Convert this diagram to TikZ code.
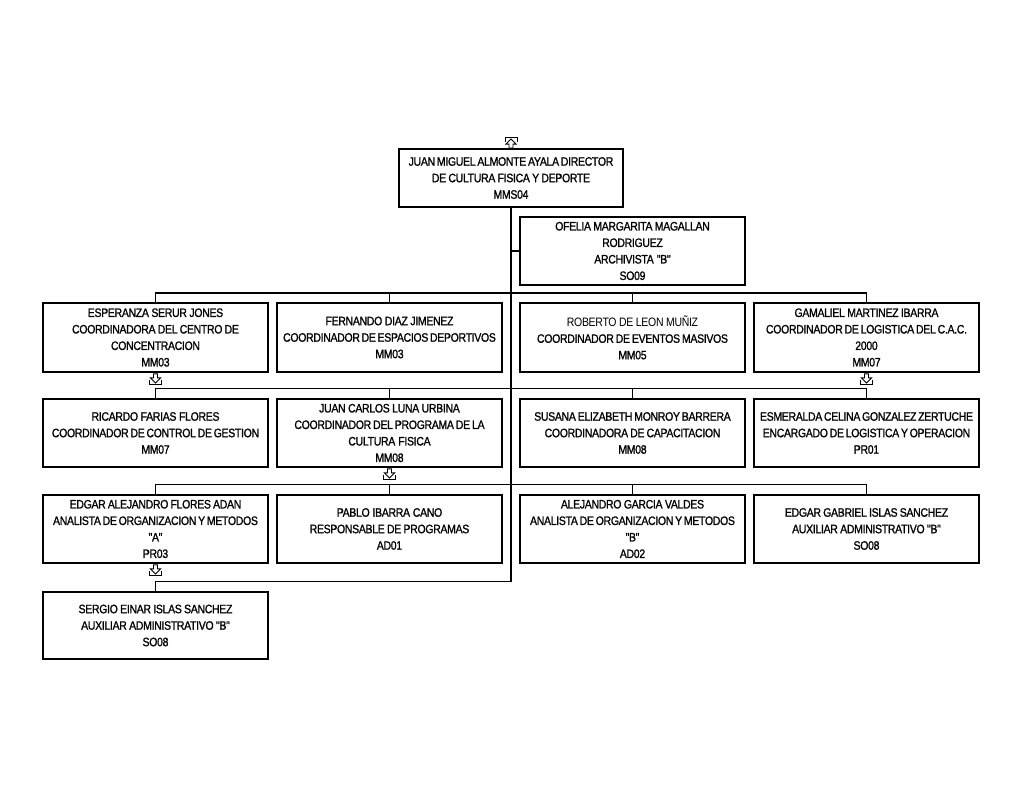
\documentclass[tikz,border=0pt]{standalone}
\usepackage{fontspec}
\setmainfont{Liberation Sans}[FakeStretch=0.86, LetterSpace=-2.5, FakeBold=1.1, Ligatures=TeXOff]
\newcommand\tightspaces{\spaceskip=1.6pt plus 0.5pt minus 0.3pt\relax}
\begin{document}
\begin{tikzpicture}[x=1pt,y=-1pt,
  box/.style={draw, line width=1.8pt, fill=white, minimum width=225pt, minimum height=68pt,
    inner sep=0pt, align=center, text width=222pt,
    font=\fontsize{12.2}{16.5}\selectfont, execute at begin node=\tightspaces},
  conn/.style={line width=1.6pt},
  dnicon/.pic={
    \draw[line width=0.9pt, fill=white] (-2,0) -- (2,0) -- (2,4) -- (5,4) -- (0,9) -- (-5,4) -- (-2,4) -- cycle;
    \draw[line width=0.9pt] (-6,6) -- (-6,11) -- (6,11) -- (6,6);
  },
  upicon/.pic={
    \draw[line width=0.9pt, fill=white] (-2,0) -- (2,0) -- (2,-4) -- (5,-4) -- (0,-9) -- (-5,-4) -- (-2,-4) -- cycle;
    \draw[line width=0.9pt] (-6,-6) -- (-6,-11) -- (6,-11) -- (6,-6);
  }]
\useasboundingbox[fill=white] (0,0) rectangle (1024,791);

% top
\node[box, minimum width=224pt, minimum height=58pt] (top) at (511,178)
  {JUAN MIGUEL ALMONTE AYALA DIRECTOR\\DE CULTURA FISICA Y DEPORTE\\MMS04\\[2pt]};
\node[box] (of) at (632.5,251)
  {OFELIA MARGARITA MAGALLAN\\RODRIGUEZ\\ARCHIVISTA "B"\\SO09};

% row 1
\node[box, minimum height=69pt] (a1) at (155.5,337.5)
  {ESPERANZA SERUR JONES\\COORDINADORA DEL CENTRO DE\\CONCENTRACION\\MM03};
\node[box, minimum height=69pt] (b1) at (389.5,337.5)
  {FERNANDO DIAZ JIMENEZ\\COORDINADOR DE ESPACIOS DEPORTIVOS\\MM03};
\node[box, minimum height=69pt] (c1) at (632.5,337.5)
  {{\addfontfeatures{FakeBold=0}\tightspaces ROBERTO DE LEON MUÑIZ}\\COORDINADOR DE EVENTOS MASIVOS\\MM05};
\node[box, minimum height=69pt] (d1) at (866.5,337.5)
  {GAMALIEL MARTINEZ IBARRA\\COORDINADOR DE LOGISTICA DEL C.A.C.\\2000\\MM07};

% row 2
\node[box] (a2) at (155.5,433)
  {RICARDO FARIAS FLORES\\COORDINADOR DE CONTROL DE GESTION\\MM07};
\node[box] (b2) at (389.5,433)
  {JUAN CARLOS LUNA URBINA\\COORDINADOR DEL PROGRAMA DE LA\\CULTURA FISICA\\MM08};
\node[box] (c2) at (632.5,433)
  {SUSANA ELIZABETH MONROY BARRERA\\COORDINADORA DE CAPACITACION\\MM08};
\node[box] (d2) at (866.5,433)
  {ESMERALDA CELINA GONZALEZ ZERTUCHE\\ENCARGADO DE LOGISTICA Y OPERACION\\PR01};

% row 3
\node[box] (a3) at (155.5,529)
  {EDGAR ALEJANDRO FLORES ADAN\\ANALISTA DE ORGANIZACION Y METODOS\\"A"\\PR03};
\node[box] (b3) at (389.5,529)
  {PABLO IBARRA CANO\\RESPONSABLE DE PROGRAMAS\\AD01};
\node[box] (c3) at (632.5,529)
  {ALEJANDRO GARCIA VALDES\\ANALISTA DE ORGANIZACION Y METODOS\\"B"\\AD02};
\node[box] (d3) at (866.5,529)
  {EDGAR GABRIEL ISLAS SANCHEZ\\AUXILIAR ADMINISTRATIVO "B"\\SO08};

% row 4
\node[box, minimum height=67pt] (a4) at (155.5,625.5)
  {SERGIO EINAR ISLAS SANCHEZ\\AUXILIAR ADMINISTRATIVO "B"\\SO08};

% connectors
\draw[conn] (top.south) |- ([yshift=9.5pt]a4.north) -- (a4.north);
\draw[conn] (of.west) -- (of.west -| top.south);
\draw[conn] (a1.north) -- ([yshift=9pt]a1.north) -| (d1.north);
\draw[conn] (b1.north) -- ++(0,-9);
\draw[conn] (c1.north) -- ++(0,-9);
\draw[conn] (a2.north) -- ([yshift=9.5pt]a2.north) -| (d2.north);
\draw[conn] (b2.north) -- ++(0,-9.5);
\draw[conn] (c2.north) -- ++(0,-9.5);
\draw[conn] (a3.north) -- ([yshift=9.5pt]a3.north) -| (d3.north);
\draw[conn] (b3.north) -- ++(0,-9.5);
\draw[conn] (c3.north) -- ++(0,-9.5);

% icons
\pic at (top.north) {upicon};
\pic at ([yshift=-1pt]a1.south) {dnicon};
\pic at ([yshift=-1pt]d1.south) {dnicon};
\pic at ([yshift=-1pt]b2.south) {dnicon};
\pic at ([yshift=-1pt]a3.south) {dnicon};
\end{tikzpicture}
\end{document}
